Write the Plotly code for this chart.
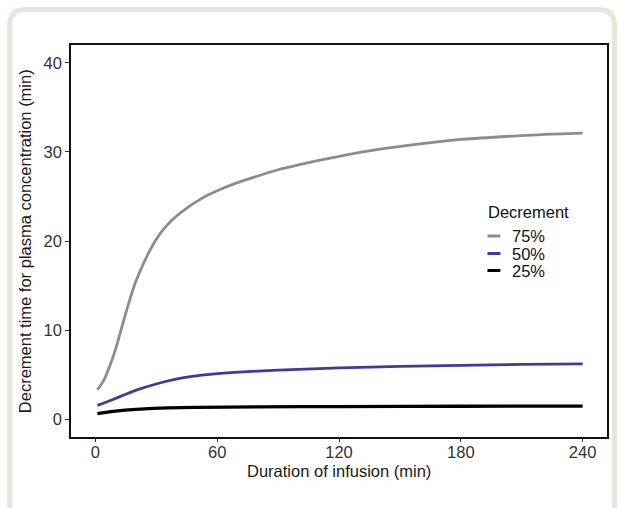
import plotly.graph_objects as go

# ---------------- data ----------------
x_75 = [1, 4, 7, 10, 13, 16, 20, 25, 30, 35, 40, 45, 50, 55, 60, 70, 80, 90, 100, 110, 120, 140, 160, 180, 200, 220, 240]
y_75 = [3.3, 4.3, 5.9, 7.9, 10.3, 12.7, 15.5, 18.1, 20.2, 21.7, 22.8, 23.7, 24.45, 25.1, 25.65, 26.55, 27.3, 28.0, 28.55, 29.05, 29.5, 30.3, 30.9, 31.4, 31.7, 31.95, 32.1]

x_50 = [1, 8, 15, 22, 30, 38, 46, 55, 65, 80, 100, 120, 150, 180, 210, 240]
y_50 = [1.55, 2.15, 2.8, 3.4, 3.95, 4.4, 4.75, 5.0, 5.2, 5.4, 5.6, 5.75, 5.92, 6.05, 6.15, 6.2]

x_25 = [1, 10, 20, 32, 50, 80, 120, 180, 240]
y_25 = [0.62, 0.9, 1.1, 1.25, 1.32, 1.38, 1.42, 1.45, 1.47]

series_names = ["75%", "50%", "25%"]
series_colors = ["#8c8c8c", "#3a3d9c", "#000000"]
series_widths = [2.8, 2.8, 3.3]

x_ticks = [0, 60, 120, 180, 240]
y_ticks = [0, 10, 20, 30, 40]
x_title = "Duration of infusion (min)"
y_title = "Decrement time for plasma concentration (min)"
legend_title = "Decrement"

# ---------------- figure ----------------
W, H = 620, 508
L, R, T, B = 71, 11, 45, 71
pw, ph = W - L - R, H - T - B

def px(x):
    return (x - L) / pw

def py(y):
    return (H - B - y) / ph

fig = go.Figure()
for xs, ys, name, col, lw in zip([x_75, x_50, x_25], [y_75, y_50, y_25],
                                 series_names, series_colors, series_widths):
    fig.add_trace(go.Scatter(x=xs, y=ys, mode="lines", name=name,
                             line=dict(color=col, width=lw, shape="spline", smoothing=0.6),
                             showlegend=False, hoverinfo="skip"))

font_family = "Liberation Sans, Arial, sans-serif"
tick_size = 16.5
title_size = 16.5

fig.update_layout(
    width=W, height=H,
    margin=dict(l=L, r=R, t=T, b=B, pad=0),
    paper_bgcolor="white", plot_bgcolor="white",
    font=dict(family=font_family, size=tick_size, color="#333333"),
    xaxis=dict(range=[-12, 252], tickvals=x_ticks, ticks="outside", ticklen=3,
               tickwidth=1, tickcolor="#333333", showgrid=False, zeroline=False,
               showline=True, linecolor="#111111", linewidth=1.5, mirror=True,
               tickfont=dict(size=tick_size, color="#333333"), ticklabelstandoff=-4),
    yaxis=dict(range=[-2, 42], tickvals=y_ticks, ticks="outside", ticklen=4,
               tickwidth=1, tickcolor="#333333", showgrid=False, zeroline=False,
               showline=True, linecolor="#111111", linewidth=1.5, mirror=True,
               tickfont=dict(size=tick_size, color="#333333")),
)

# axis titles
fig.add_annotation(text=x_title, xref="paper", yref="paper", x=px(340), y=py(471),
                   xanchor="center", yanchor="middle", showarrow=False,
                   font=dict(size=title_size, color="#1a1a1a"))
fig.add_annotation(text=y_title, xref="paper", yref="paper", x=px(25), y=py(241),
                   xanchor="center", yanchor="middle", showarrow=False, textangle=-90,
                   font=dict(size=title_size, color="#1a1a1a"))

# outer rounded beige frame (layout decoration)
x0, y0, x1, y1, r = 9.5, 9.5, 616.5, 530, 16
path = (f"M {px(x0)},{py(y1)} L {px(x0)},{py(y0 + r)} "
        f"Q {px(x0)},{py(y0)} {px(x0 + r)},{py(y0)} "
        f"L {px(x1 - r)},{py(y0)} Q {px(x1)},{py(y0)} {px(x1)},{py(y0 + r)} "
        f"L {px(x1)},{py(y1)}")
fig.add_shape(type="path", path=path, xref="paper", yref="paper",
              line=dict(color="#e8e5dd", width=5), layer="below")

# legend (drawn manually for compact spacing)
leg_font = 16.5
fig.add_annotation(text=legend_title, xref="paper", yref="paper",
                   x=px(488), y=py(212), xanchor="left", yanchor="middle",
                   showarrow=False, font=dict(size=leg_font, color="#111111"))
leg_y = [236, 253.5, 270.5]
for name, col, ly in zip(series_names, series_colors, leg_y):
    fig.add_shape(type="line", xref="paper", yref="paper",
                  x0=px(489), x1=px(502), y0=py(ly), y1=py(ly),
                  line=dict(color=col, width=3))
    fig.add_annotation(text=name, xref="paper", yref="paper",
                       x=px(512), y=py(ly + 0.5), xanchor="left", yanchor="middle",
                       showarrow=False, font=dict(size=leg_font, color="#111111"))

fig.write_html("out.html")
